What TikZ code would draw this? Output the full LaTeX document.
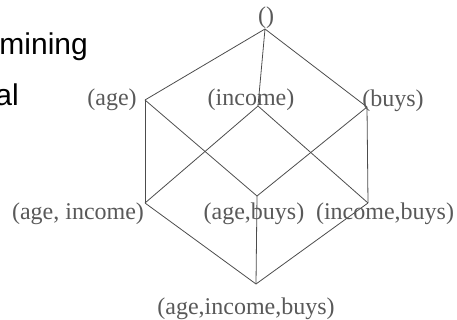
\documentclass[tikz,border=0pt]{standalone}
\usepackage{fontspec}
\setmainfont{Liberation Serif}
\newfontfamily\arialfont{Liberation Sans}
\begin{document}
\begin{tikzpicture}[x=1pt,y=-1pt,
  edge/.style={draw=black!70,line width=0.8pt},
  lbl/.style={text=black!65,font=\fontsize{24}{28}\selectfont,inner sep=0pt,anchor=base},
  slide/.style={text=black,font=\arialfont\fontsize{30}{34}\selectfont,inner sep=0pt,anchor=base east}]
\useasboundingbox (0,0) rectangle (457,320);
% lattice vertices
\coordinate (v0) at (265,29);
\coordinate (va) at (145,100);
\coordinate (vi) at (258,106);
\coordinate (vb) at (367,107);
\coordinate (vai) at (145,203);
\coordinate (vab) at (257,196);
\coordinate (vib) at (368,203);
\coordinate (vaib) at (256,284);
% edges
\draw[edge] (v0) -- (va);
\draw[edge] (v0) -- (vi);
\draw[edge] (v0) -- (vb);
\draw[edge] (va) -- (vai);
\draw[edge] (va) -- (vab);
\draw[edge] (vi) -- (vai);
\draw[edge] (vi) -- (vib);
\draw[edge] (vb) -- (vab);
\draw[edge] (vb) -- (vib);
\draw[edge] (vai) -- (vaib);
\draw[edge] (vab) -- (vaib);
\draw[edge] (vib) -- (vaib);
% labels
\node[lbl] (l0) at (266,24) {()};
\node[lbl] (la) at (112,106) {(age)};
\node[lbl] (li) at (251,106) {(income)};
\node[lbl] (lb) at (393,107) {(buys)};
\node[lbl] (lai) at (78,219) {(age, income)};
\node[lbl] (lab) at (254,219) {(age,buys)};
\node[lbl] (lib) at (385,219) {(income,buys)};
\node[lbl] (laib) at (246,314) {(age,income,buys)};
% cut-off slide text
\node[slide] (t1) at (88,55) {mining};
\node[slide] (t2) at (19,106) {al};
\end{tikzpicture}
\end{document}
